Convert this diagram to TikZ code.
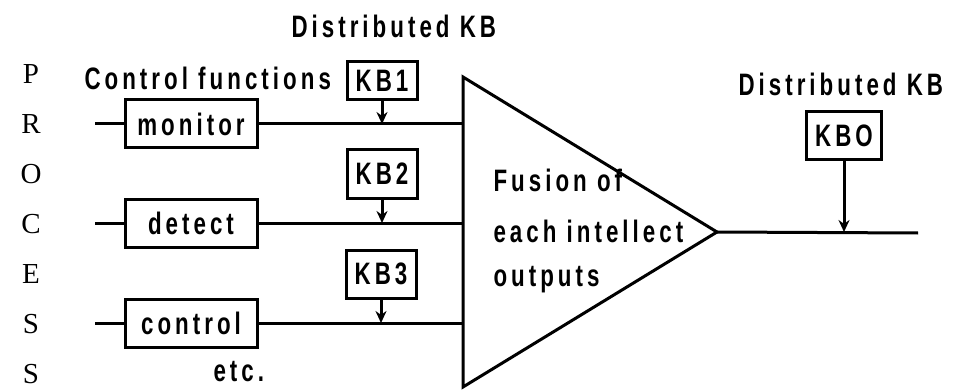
\documentclass[tikz,border=0pt]{standalone}
\usepackage{fontspec}
\setmainfont{Liberation Serif}
\newfontfamily\labfont[FakeStretch=0.72,LetterSpace=13]{Liberation Sans Bold}
\usetikzlibrary{arrows.meta}
\begin{document}
\begin{tikzpicture}[x=1pt,y=-1pt,
  line width=3pt,
  lbl/.style={font=\labfont\fontsize{31}{34}\selectfont,inner sep=0pt},
  fnbox/.style={draw,lbl,minimum width=132pt,minimum height=48pt},
  kbbox/.style={draw,lbl,minimum width=70pt,minimum height=48pt},
  proc/.style={font=\fontsize{29}{31}\selectfont,inner sep=0pt},
  kbarrow/.style={-{Stealth[length=12pt,width=11pt]}}]
\useasboundingbox (0,0) rectangle (965,390);

% vertical word PROCESS
\foreach \ch [count=\i from 0] in {P,R,O,C,E,S,S}
  \node[proc] (p\i) at (31,74+50*\i) {\ch};

% headings
\node[lbl,anchor=west] (ctrlhead) at (83,78) {Control functions};
\node[lbl,anchor=west] (dkbtop) at (290,26) {Distributed KB};
\node[lbl,anchor=west] (dkbout) at (737,84) {Distributed KB};
\node[lbl,anchor=west] (etc) at (212,372) {etc.};

% control function blocks
\node[fnbox] (mon) at (191,124) {monitor};
\node[fnbox] (det) at (191,223) {detect};
\node[fnbox] (ctl) at (191,323) {control};

% knowledge bases
\node[kbbox,minimum height=38pt] (kb1) at (382,81) {KB1};
\node[kbbox] (kb2) at (382,174) {KB2};
\node[kbbox] (kb3) at (381,274) {KB3};
\node[kbbox,minimum width=75pt] (kb0) at (844,136) {KBO};

% fusion triangle
\coordinate (ttop) at (463,77);
\coordinate (apex) at (717,232);
\coordinate (tbot) at (463,387);
\draw[line join=miter] (ttop) -- (apex) -- (tbot) -- cycle;
\node[lbl,anchor=west] (f1) at (492,180) {Fusion of};
\node[lbl,anchor=west] (f2) at (492,231) {each intellect};
\node[lbl,anchor=west] (f3) at (492,280) {outputs};

% input stubs
\coordinate (s1) at (95,124);
\coordinate (s2) at (95,223);
\coordinate (s3) at (95,323);
\draw (s1) -- (mon.west);
\draw (s2) -- (det.west);
\draw (s3) -- (ctl.west);

% lines into the fusion block
\coordinate (in1) at (463,124);
\coordinate (in2) at (463,223);
\coordinate (in3) at (463,323);
\draw (mon.east) -- (in1);
\draw (det.east) -- (in2);
\draw (ctl.east) -- (in3);

% knowledge injection points
\coordinate (j1) at (kb1.south |- in1);
\coordinate (j2) at (kb2.south |- in2);
\coordinate (j3) at (kb3.south |- in3);
\draw[kbarrow] (kb1.south) -- (j1);
\draw[kbarrow] (kb2.south) -- (j2);
\draw[kbarrow] (kb3.south) -- (j3);

% output line
\coordinate (outend) at (918,233);
\draw (apex) -- (outend);
\coordinate (j0) at (kb0.south |- apex);
\draw[kbarrow] (kb0.south) -- (j0);
\end{tikzpicture}
\end{document}
